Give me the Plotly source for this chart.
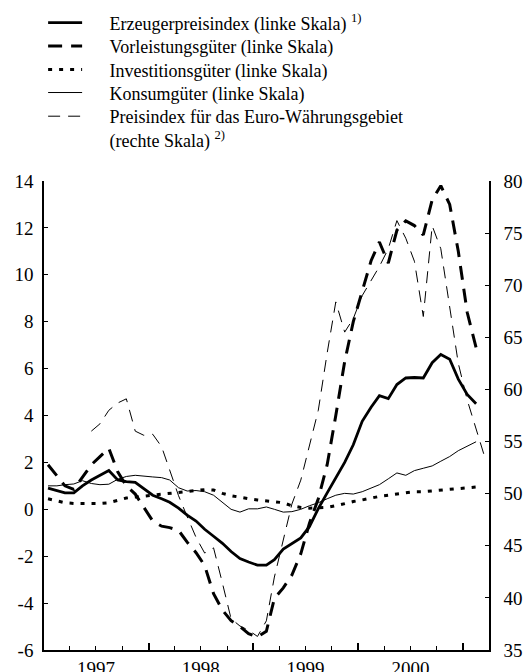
import pandas as pd
import plotly.graph_objects as go

# monthly data, Jan 1997 - Feb 2001 (left scale, % change on a year earlier)
erzeuger = [0.9, 0.8, 0.7, 0.7, 1.0, 1.25, 1.45, 1.65, 1.25, 1.18, 1.15, 0.88,
            0.6, 0.45, 0.3, 0.05, -0.25, -0.5, -0.85, -1.15, -1.45, -1.8, -2.1, -2.25,
            -2.38, -2.38, -2.15, -1.7, -1.47, -1.22, -0.74, 0.03, 0.7, 1.36, 2.0, 2.75,
            3.75, 4.35, 4.85, 4.72, 5.32, 5.6, 5.62, 5.6, 6.25, 6.6, 6.4, 5.55,
            4.9, 4.5]
vorleistung = [1.9, 1.45, 1.0, 0.85, 1.35, 1.9, 2.25, 2.6, 1.6, 1.0, 0.65, 0.1,
               -0.5, -0.72, -0.78, -0.9, -1.4, -1.85, -2.4, -3.6, -4.3, -4.75, -5.0, -5.3,
               -5.45, -5.2, -3.8, -3.35, -2.8, -1.9, -0.6, 0.45, 1.9, 4.0, 6.3, 8.0,
               9.3, 10.6, 11.4, 10.5, 11.9, 12.3, 12.1, 11.7, 13.2, 13.8, 13.0, 11.0,
               8.4, 6.9]
investition = [0.45, 0.35, 0.28, 0.25, 0.25, 0.24, 0.25, 0.28, 0.38, 0.48, 0.52, 0.56,
               0.6, 0.62, 0.66, 0.72, 0.76, 0.78, 0.84, 0.82, 0.68, 0.58, 0.5, 0.45,
               0.4, 0.36, 0.33, 0.28, 0.15, 0.08, 0.05, 0.05, 0.08, 0.15, 0.25, 0.33,
               0.4, 0.48, 0.55, 0.6, 0.65, 0.72, 0.75, 0.75, 0.78, 0.8, 0.85, 0.88,
               0.9, 0.95]
konsum = [1.0, 1.0, 1.05, 1.08, 1.22, 1.1, 1.05, 1.07, 1.28, 1.4, 1.45, 1.4,
          1.38, 1.35, 1.25, 0.92, 0.78, 0.8, 0.75, 0.6, 0.3, 0.0, -0.12, 0.02,
          0.02, 0.1, 0.0, -0.12, -0.1, 0.0, 0.15, 0.28, 0.45, 0.6, 0.68, 0.65,
          0.75, 0.9, 1.05, 1.3, 1.55, 1.45, 1.65, 1.75, 1.85, 2.05, 2.25, 2.5,
          2.7, 2.88]
# right scale, Jun 1997 - Mar 2001
preisindex = [56.0, 56.7, 58.0, 58.7, 59.1, 56.0, 55.6,
              55.7, 54.5, 52.3, 49.8, 47.8, 45.8, 44.3, 44.8, 41.4, 38.0, 37.3, 36.9,
              36.3, 37.8, 42.0, 45.5, 49.0, 51.3, 54.6, 58.0, 63.5, 68.4, 65.5, 66.8,
              69.0, 70.5, 71.8, 73.5, 76.2, 74.5, 72.3, 67.0, 75.7, 73.5, 68.1, 62.5,
              59.0, 56.2, 53.7]

left_ticks = [-6, -4, -2, 0, 2, 4, 6, 8, 10, 12, 14]
right_ticks = [35, 40, 45, 50, 55, 60, 65, 70, 75, 80]

months = pd.date_range("1997-01-01", periods=51, freq="MS") + pd.Timedelta(days=14)
x_left = months[:50]
x_right = months[5:51]

FONT = "Liberation Serif"
PAD = "&nbsp;" * 5

fig = go.Figure()

fig.add_trace(go.Scatter(x=x_left, y=erzeuger, mode="lines", legend="legend",
                         name=PAD + "Erzeugerpreisindex (linke Skala) <sup>1)</sup>",
                         line=dict(color="black", width=2.8)))
fig.add_trace(go.Scatter(x=x_left, y=vorleistung, mode="lines", legend="legend2",
                         name=PAD + "Vorleistungsgüter (linke Skala)",
                         line=dict(color="black", width=3, dash="14px,9px")))
fig.add_trace(go.Scatter(x=x_left, y=investition, mode="lines", legend="legend3",
                         name=PAD + "Investitionsgüter (linke Skala)",
                         line=dict(color="black", width=3, dash="4px,7px")))
fig.add_trace(go.Scatter(x=x_left, y=konsum, mode="lines", legend="legend4",
                         name=PAD + "Konsumgüter (linke Skala)",
                         line=dict(color="black", width=1)))
fig.add_trace(go.Scatter(x=x_right, y=preisindex, mode="lines", yaxis="y2", legend="legend5",
                         name=PAD + "Preisindex für das Euro-Währungsgebiet<br>"
                              + PAD + "(rechte Skala) <sup>2)</sup>",
                         line=dict(color="black", width=1, dash="12px,8px")))

quarters = pd.date_range("1997-04-01", "2000-10-01", freq="QS")
quarters = [d for d in quarters if d.month != 1]
ticktext = [str(d.year) if d.month == 7 else "" for d in quarters]
year_starts = pd.date_range("1998-01-01", "2001-01-01", freq="YS")


def legend_box(y):
    return dict(
        xref="paper", yref="paper", x=-0.002, y=y,
        xanchor="left", yanchor="middle", valign="top",
        itemwidth=34, bgcolor="rgba(0,0,0,0)",
        font=dict(family=FONT, size=18, color="black"),
    )


fig.update_layout(
    width=525,
    height=672,
    margin=dict(l=44, r=36, t=181, b=22, autoexpand=False),
    paper_bgcolor="white",
    plot_bgcolor="white",
    font=dict(family=FONT, size=18, color="black"),
    showlegend=True,
    legend=legend_box(1.337),
    legend2=legend_box(1.287),
    legend3=legend_box(1.237),
    legend4=legend_box(1.188),
    legend5=legend_box(1.113),
    xaxis=dict(
        range=["1997-01-01", "2001-04-01"],
        tickmode="array", tickvals=quarters, ticktext=ticktext,
        ticks="inside", ticklen=4, tickwidth=1, tickcolor="black",
        minor=dict(tickmode="array", tickvals=year_starts, ticks="inside",
                   ticklen=7, tickwidth=1.5, tickcolor="black"),
        showline=True, linecolor="black", linewidth=1.5,
        showgrid=False, zeroline=False, automargin=False,
        tickfont=dict(family=FONT, size=19),
    ),
    yaxis=dict(
        range=[-6, 14], tickmode="array", tickvals=left_ticks,
        ticktext=[str(v) for v in left_ticks],
        ticks="inside", ticklen=4, tickcolor="black",
        showline=True, linecolor="black", linewidth=1.5,
        showgrid=False, zeroline=False, automargin=False,
        ticklabelstandoff=5,
        tickfont=dict(family=FONT, size=19),
    ),
    yaxis2=dict(
        range=[35, 80], tickmode="array", tickvals=right_ticks,
        ticktext=[str(v) for v in right_ticks],
        overlaying="y", side="right",
        ticks="inside", ticklen=4, tickcolor="black",
        showline=True, linecolor="black", linewidth=1.5,
        showgrid=False, zeroline=False, automargin=False,
        ticklabelstandoff=9,
        tickfont=dict(family=FONT, size=19),
    ),
)

# drop the browser's default 8px page margin so the figure fills the window
fig.write_html("out.html",
               config={"displayModeBar": False},
               post_script="document.body.style.margin='0';"
                           "document.body.style.overflow='hidden';")
